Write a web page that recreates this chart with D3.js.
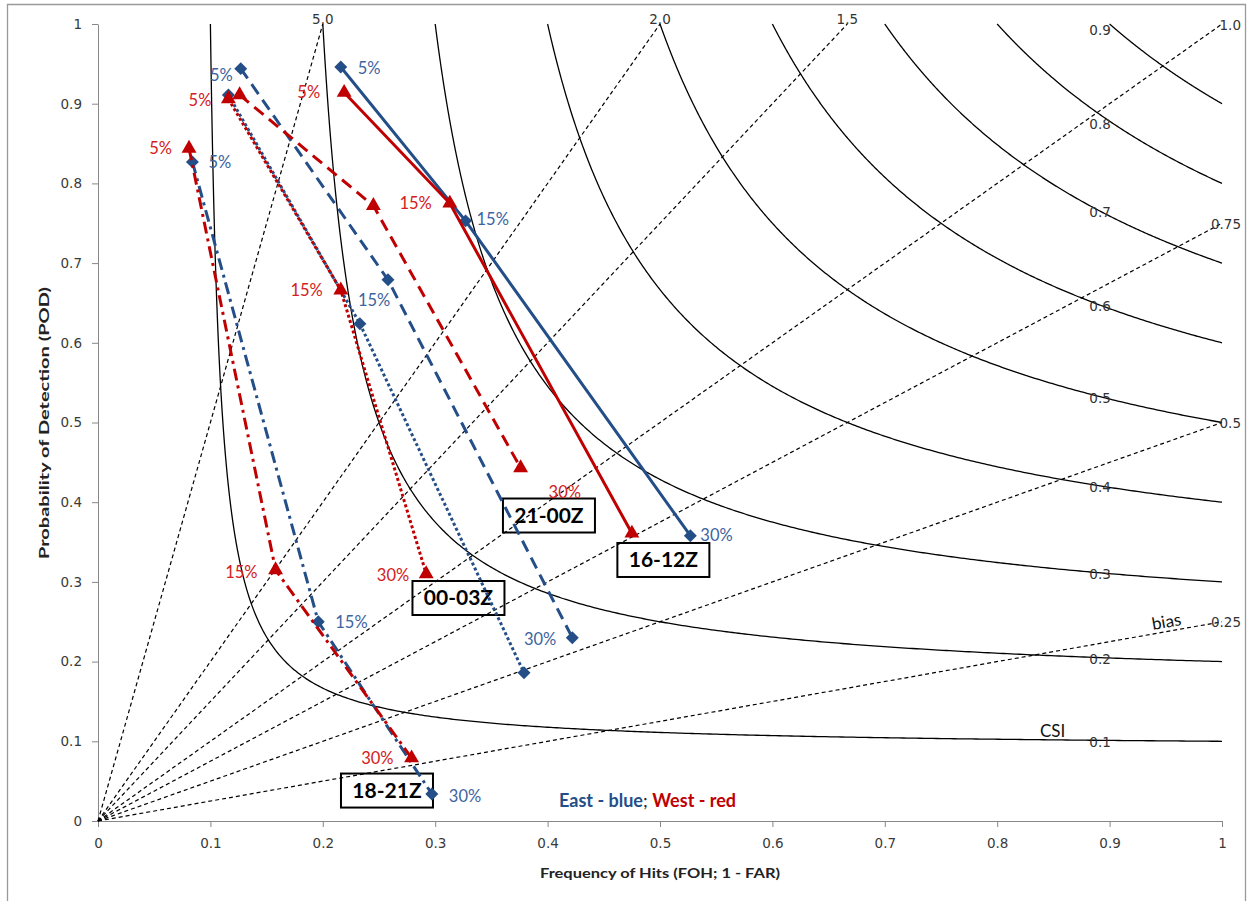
<!DOCTYPE html>
<html><head><meta charset="utf-8">
<script src="https://cdn.jsdelivr.net/npm/d3@7"></script>
<style>body{margin:0;background:#fff} svg{display:block}</style>
</head><body>
<svg id="chart" width="1247" height="901"></svg>
<script>
// ---------- data ----------
const periods = ["16-12Z", "21-00Z", "00-03Z", "18-21Z"];
const levels = ["5%", "15%", "30%"];
const eastFOH = [[0.216, 0.327, 0.527], [0.127, 0.258, 0.422], [0.116, 0.233, 0.379], [0.084, 0.196, 0.297]];
const eastPOD = [[0.946, 0.753, 0.358], [0.944, 0.679, 0.230], [0.911, 0.624, 0.186], [0.827, 0.250, 0.034]];
const westFOH = [[0.219, 0.313, 0.475], [0.126, 0.245, 0.376], [0.116, 0.216, 0.292], [0.081, 0.158, 0.279]];
const westPOD = [[0.914, 0.775, 0.361], [0.911, 0.772, 0.443], [0.906, 0.666, 0.310], [0.844, 0.315, 0.079]];
const csiLevels = [0.1, 0.2, 0.3, 0.4, 0.5, 0.6, 0.7, 0.8, 0.9];
const csiLabels = ["0.1", "0.2", "0.3", "0.4", "0.5", "0.6", "0.7", "0.8", "0.9"];
const biasLevels = [0.25, 0.5, 0.75, 1.0, 1.5, 2.0, 5.0];
const biasLabels = ["0.25", "0.5", "0.75", "1.0", "1.5", "2.0", "5.0"];
const axisTicks = [0, 0.1, 0.2, 0.3, 0.4, 0.5, 0.6, 0.7, 0.8, 0.9, 1];
const xTitle = "Frequency of Hits (FOH; 1 - FAR)";
const yTitle = "Probability of Detection (POD)";

// ---------- annotation layout (not data) ----------
// point labels: [region, period index, level index, dx, dy, anchor]
const pointLabels = [
  ["E", 0, 0, 17, 1, "start"], ["W", 0, 0, -24, 0, "end"], ["W", 0, 1, -18, 0, "end"],
  ["E", 0, 1, 11, -2, "start"], ["E", 0, 2, 10, 0, "start"], ["W", 1, 2, 28, 24, "start"],
  ["E", 1, 0, -8, 7, "end"], ["W", 2, 0, -17, 1, "end"], ["E", 3, 0, 16, 0, "start"],
  ["W", 3, 0, -17, 0, "end"], ["W", 2, 1, -18, 0, "end"], ["E", 2, 1, -2, -23, "start"],
  ["W", 3, 1, -18, 2, "end"], ["E", 3, 1, 17, 0, "start"], ["W", 2, 2, -17, 1, "end"],
  ["E", 1, 2, -16, 2, "end"], ["W", 3, 2, -18, 0, "end"], ["E", 3, 2, 17, 2, "start"]
];
const boxFOH = [0.503, 0.4012, 0.3207, 0.2571]; // box centres, per period
const boxPOD = [0.3275, 0.3833, 0.2798, 0.0382];

const BLUE = "#244E87", RED = "#C00000", BLUE_T = "#3D64A0", RED_T = "#D42020";
const dashes = [null, "12,7", "3,2.5", "12,5,3,5"];

const svg = d3.select("#chart");
const x = d3.scaleLinear().domain([0, 1]).range([98, 1222]);
const y = d3.scaleLinear().domain([0, 1]).range([821, 24]);

// outer frame
svg.append("path").attr("d", "M7.5,905 V4.5 H1245.5 V905")
  .attr("fill", "none").attr("stroke", "#9a9a9a").attr("stroke-width", 1.3);

// label boxes (behind everything)
const gBox = svg.append("g");
periods.forEach((p, i) => {
  const cx = x(boxFOH[i]), cy = y(boxPOD[i]);
  gBox.append("rect").attr("x", cx - 46).attr("y", cy - 17).attr("width", 92).attr("height", 34)
    .attr("fill", "#fff").attr("stroke", "#000").attr("stroke-width", 2);
  gBox.append("text").attr("x", cx).attr("y", cy + 7.5).attr("text-anchor", "middle")
    .attr("font-family", "Lato, 'Open Sans', sans-serif").attr("font-weight", "bold")
    .attr("font-size", 21).attr("fill", "#000").text(p);
});

// axes
const fmt = d => String(+d.toFixed(1));
const xAxis = svg.append("g").attr("transform", "translate(0,821)")
  .call(d3.axisBottom(x).tickValues(axisTicks).tickFormat(fmt).tickSizeInner(6).tickSizeOuter(0).tickPadding(11));
const yAxis = svg.append("g").attr("transform", "translate(98,0)")
  .call(d3.axisLeft(y).tickValues(axisTicks).tickFormat(fmt).tickSizeInner(6).tickSizeOuter(0).tickPadding(10));
[xAxis, yAxis].forEach(a => {
  a.select(".domain").attr("stroke", "#888");
  a.selectAll(".tick line").attr("stroke", "#888");
  a.selectAll(".tick text").attr("font-family", "'DejaVu Sans', Verdana, sans-serif")
    .attr("font-size", 13.5).attr("fill", "#3a3a3a");
});

// CSI curves
const gRef = svg.append("g");
csiLevels.forEach(c => {
  const pts = d3.range(0, 401).map(k => {
    const t = k / 400;
    const f = c + (1 - c) * t * t;
    return [f, 1 / (1 / c - 1 / f + 1)];
  });
  gRef.append("path").attr("d", d3.line().x(d => x(d[0])).y(d => y(Math.min(1, d[1])))(pts))
    .attr("fill", "none").attr("stroke", "#000").attr("stroke-width", 1.3);
});
// bias lines
biasLevels.forEach(b => {
  const end = b >= 1 ? [1 / b, 1] : [1, b];
  gRef.append("line").attr("x1", x(0)).attr("y1", y(0)).attr("x2", x(end[0])).attr("y2", y(end[1]))
    .attr("stroke", "#000").attr("stroke-width", 1.2).attr("stroke-dasharray", "4,3");
});

// reference labels
const refFont = "'DejaVu Sans', Verdana, sans-serif";
const labFont = "Lato, 'Open Sans', sans-serif";
csiLevels.forEach((c, i) => {
  const f = 0.8915;
  let p = Math.min(1, 1 / (1 / c - 1 / f + 1));
  let dy = 1.5;
  if (c === 0.8) dy = 10;
  if (c === 0.9) dy = 6;
  gRef.append("text").attr("x", x(f)).attr("y", y(p) + dy).attr("dy", "0.35em")
    .attr("text-anchor", "middle").attr("font-family", refFont).attr("font-size", 13.5)
    .attr("fill", "#333").text(csiLabels[i]);
});
biasLevels.forEach((b, i) => {
  const t = gRef.append("text").attr("font-family", refFont).attr("font-size", 13.5).attr("fill", "#333").text(biasLabels[i]);
  if (b > 1) t.attr("x", x(1 / b)).attr("y", y(1) - 5).attr("dy", "0.35em").attr("text-anchor", "middle");
  else t.attr("x", 1241).attr("y", y(b) + 1).attr("dy", "0.35em").attr("text-anchor", "end");
});
const ang = Math.atan2(y(0.25) - y(0), x(1) - x(0)) * 180 / Math.PI;
gRef.append("text").attr("transform", `translate(1153,630) rotate(${ang})`)
  .attr("font-family", labFont).attr("font-size", 17).attr("fill", "#111").text("bias");
gRef.append("text").attr("x", 1040).attr("y", 737)
  .attr("font-family", labFont).attr("font-size", 17).attr("fill", "#111").text("CSI");

// data series
const gData = svg.append("g");
const series = [
  { key: "E", foh: eastFOH, pod: eastPOD, color: BLUE, sym: d3.symbolSquare, size: 84, rot: 45 },
  { key: "W", foh: westFOH, pod: westPOD, color: RED, sym: d3.symbolTriangle, size: 96, rot: 0 }
];
series.forEach(s => {
  periods.forEach((p, i) => {
    const pts = levels.map((l, j) => [s.foh[i][j], s.pod[i][j]]);
    const path = gData.append("path").attr("d", d3.line().x(d => x(d[0])).y(d => y(d[1]))(pts))
      .attr("fill", "none").attr("stroke", s.color).attr("stroke-width", 3);
    if (dashes[i]) path.attr("stroke-dasharray", dashes[i]);
    pts.forEach(d => {
      gData.append("path").attr("d", d3.symbol(s.sym, s.size)())
        .attr("transform", `translate(${x(d[0])},${y(d[1])}) rotate(${s.rot})`)
        .attr("fill", s.color);
    });
  });
});

// point labels
const gLab = svg.append("g");
pointLabels.forEach(([r, i, j, dx, dy, anchor]) => {
  const foh = r === "E" ? eastFOH : westFOH, pod = r === "E" ? eastPOD : westPOD;
  gLab.append("text").attr("x", x(foh[i][j]) + dx).attr("y", y(pod[i][j]) + dy).attr("dy", "0.35em")
    .attr("text-anchor", anchor).attr("font-family", labFont).attr("font-size", 16.5)
    .attr("fill", r === "E" ? BLUE_T : RED_T).text(levels[j]);
});

// legend text
const leg = svg.append("text").attr("x", 559).attr("y", 807).attr("font-family", labFont)
  .attr("font-size", 18).attr("font-weight", "bold");
leg.append("tspan").attr("fill", BLUE).text("East - blue");
leg.append("tspan").attr("fill", "#222").attr("font-weight", "normal").text("; ");
leg.append("tspan").attr("fill", RED).text("West - red");

// axis titles
svg.append("text").attr("x", 660).attr("y", 878).attr("text-anchor", "middle")
  .attr("font-family", labFont).attr("font-weight", "bold").attr("font-size", 14).attr("fill", "#222")
  .attr("textLength", 240).attr("lengthAdjust", "spacingAndGlyphs").text(xTitle);
svg.append("text").attr("transform", "translate(49,423) rotate(-90)").attr("text-anchor", "middle")
  .attr("font-family", labFont).attr("font-weight", "bold").attr("font-size", 14).attr("fill", "#222")
  .attr("textLength", 272).attr("lengthAdjust", "spacingAndGlyphs").text(yTitle);
</script>
</body></html>
